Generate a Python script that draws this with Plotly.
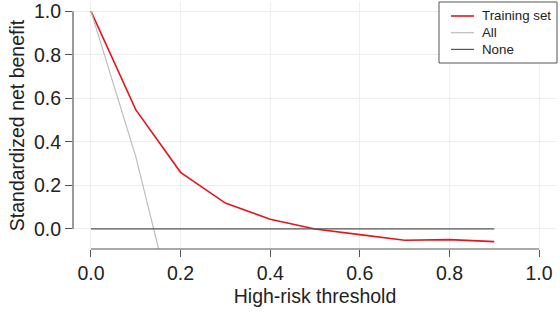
import plotly.graph_objects as go

thresholds = [0.0, 0.1, 0.2, 0.3, 0.4, 0.5, 0.6, 0.7, 0.8, 0.9]
training_set = [1.0, 0.548, 0.26, 0.119, 0.045, 0.0, -0.026, -0.052, -0.049, -0.058]
all_thr = [0.0, 0.1, 0.2, 0.3]
all_vals = [1.0, 0.333, -0.5, -1.571]
none_thr = [0.0, 0.9]
none_vals = [0.0, 0.0]
tick_vals = [0.0, 0.2, 0.4, 0.6, 0.8, 1.0]
tick_text = ["0.0", "0.2", "0.4", "0.6", "0.8", "1.0"]
legend_names = ["Training set", "All", "None"]

FONT = "Liberation Sans, Arial, Helvetica, sans-serif"
AX = "#555555"
RED = "#e8141b"
GRAY = "#bdbdbd"
DARK = "#555555"
colors = [RED, GRAY, DARK]
widths = [1.6, 1.2, 1.2]
FS = 19.5

W, H = 560, 314
L, R, T, B = 73, 3, 2, 65
PW, PH = W - L - R, H - T - B


def px(xp):
    return (xp - L) / PW


def py(yp):
    return 1 - (yp - T) / PH


fig = go.Figure()
fig.add_trace(go.Scatter(x=thresholds, y=training_set, mode="lines", name=legend_names[0],
                         line=dict(color=RED, width=widths[0])))
fig.add_trace(go.Scatter(x=all_thr, y=all_vals, mode="lines", name=legend_names[1],
                         line=dict(color=GRAY, width=widths[1])))
fig.add_trace(go.Scatter(x=none_thr, y=none_vals, mode="lines", name=legend_names[2],
                         line=dict(color=DARK, width=widths[2])))

# R-style axis lines spanning 0..1 only
fig.add_shape(type="line", xref="x", yref="paper", x0=0, x1=1, y0=0, y1=0,
              line=dict(color=AX, width=1.2))
fig.add_shape(type="line", xref="paper", yref="y", x0=0, x1=0, y0=0, y1=1,
              line=dict(color=AX, width=1.2))

# legend box
fig.add_shape(type="rect", xref="paper", yref="paper", x0=px(439), x1=px(557),
              y0=py(63), y1=py(2), line=dict(color=AX, width=1), fillcolor="white",
              layer="above")
for i, name in enumerate(legend_names):
    yc = 16 + i * 16.7
    fig.add_shape(type="line", xref="paper", yref="paper", x0=px(451), x1=px(474),
                  y0=py(yc), y1=py(yc), line=dict(color=colors[i], width=widths[i]),
                  layer="above")
    fig.add_annotation(xref="paper", yref="paper", x=px(480), y=py(yc), text=name,
                       showarrow=False, xanchor="left", yanchor="middle",
                       font=dict(size=13.3, color="#222222"))

fig.update_layout(
    width=W, height=H,
    margin=dict(l=L, r=R, t=T, b=B, autoexpand=False),
    paper_bgcolor="white", plot_bgcolor="white",
    font=dict(family=FONT, size=FS, color="#222222"),
    showlegend=False,
    xaxis=dict(range=[-0.04, 1.04], tickvals=tick_vals, ticktext=tick_text,
               showgrid=True, gridcolor="#eeeeee", gridwidth=1, zeroline=False,
               showline=False, ticks="outside", ticklen=7, tickcolor=AX, tickwidth=1.2,
               automargin=False, ticklabeloverflow="allow",
               title=dict(text="High-risk threshold", standoff=5, font=dict(size=FS)),
               tickfont=dict(size=FS)),
    yaxis=dict(range=[-0.092, 1.042], tickvals=tick_vals, ticktext=tick_text,
               showgrid=True, gridcolor="#eeeeee", gridwidth=1, zeroline=False,
               showline=False, ticks="outside", ticklen=7, tickcolor=AX, tickwidth=1.2,
               automargin=False, ticklabeloverflow="allow",
               title=dict(text="Standardized net benefit", standoff=4, font=dict(size=FS)),
               tickfont=dict(size=FS)),
)

fig.write_html("out.html", config={"displayModeBar": False},
               post_script="document.body.style.margin='0';")
